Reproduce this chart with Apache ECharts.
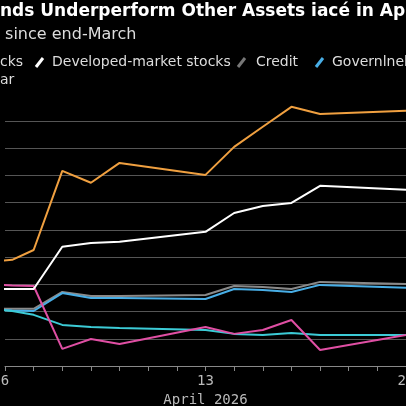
<!DOCTYPE html>
<html><head><meta charset="utf-8">
<script src="https://cdn.jsdelivr.net/npm/echarts@6/dist/echarts.min.js"></script>
<style>html,body{margin:0;padding:0;background:#000}#c{width:406px;height:406px}</style>
</head><body><div id="c"></div>
<script>
const days = [5.83, 6.25, 7, 8, 9, 10, 13, 14, 15, 16, 17, 20];
const emStocks = [3.86, 3.9, 4.26, 7.17, 6.73, 7.46, 7.02, 8.05, 8.79, 9.52, 9.26, 9.38];
const dmStocks = [2.83, 2.83, 2.83, 4.38, 4.52, 4.56, 4.93, 5.62, 5.88, 5.99, 6.62, 6.47];
const credit = [2.1, 2.1, 2.1, 2.72, 2.57, 2.57, 2.61, 2.94, 2.9, 2.83, 3.09, 3.01];
const govt = [2.06, 2.04, 2.02, 2.68, 2.5, 2.5, 2.46, 2.83, 2.79, 2.72, 2.98, 2.87];
const dollar = [2.06, 2.02, 1.88, 1.51, 1.43, 1.4, 1.32, 1.18, 1.14, 1.21, 1.14, 1.14];
const other = [2.98, 2.96, 2.94, 0.63, 0.99, 0.81, 1.43, 1.18, 1.32, 1.69, 0.59, 1.14];
const xTickLabels = {6: '6', 13: '13', 20: '20'};

const mk = (name, data, color) => ({
  name, type: 'line', data: days.map((d, i) => [d, data[i]]), showSymbol: false,
  clip: false, lineStyle: {color, width: 2}, itemStyle: {color}, animation: false
});
const chart = echarts.init(document.getElementById('c'));
const txt = (x, y, t, o) => Object.assign({type: 'text', x, y, style: Object.assign({text: t, fill: '#ddd', font: '14px "DejaVu Sans"'}, o || {})});
const icon = (x, y, c) => ({type: 'line', shape: {x1: x, y1: y + 5, x2: x + 7, y2: y - 4}, style: {stroke: c, lineWidth: 3}});
chart.setOption({
  backgroundColor: '#000',
  grid: {left: 5, right: 0, top: 121, bottom: 40, containLabel: false, outerBoundsMode: 'none'},
  xAxis: {type: 'value', min: 6, max: 20, interval: 1,
    axisLine: {show: true, lineStyle: {color: '#888'}},
    axisTick: {show: true, length: 5, lineStyle: {color: '#888'}},
    splitLine: {show: false},
    axisLabel: {color: '#bbb', fontSize: 14, fontFamily: 'DejaVu Sans Mono', margin: 8, hideOverlap: false, formatter: v => xTickLabels[v] || ''},
    name: 'April 2026', nameLocation: 'middle', nameGap: 27,
    nameTextStyle: {color: '#bbb', fontSize: 14, fontFamily: 'DejaVu Sans Mono'}},
  yAxis: {type: 'value', min: 0, max: 9, interval: 1, axisLabel: {show: false},
    axisLine: {show: false}, axisTick: {show: false},
    splitLine: {lineStyle: {color: '#555', width: 1}}},
  series: [mk('Credit', credit, '#8a8a8a'), mk('Government', govt, '#48aee6'),
    mk('Dollar', dollar, '#3ccbd6'), mk('Other', other, '#e04fa4'),
    mk('DM', dmStocks, '#ffffff'), mk('EM', emStocks, '#f0a040')],
  graphic: [
    {type: 'line', shape: {x1: 0, y1: 0, x2: 5, y2: 0}, style: {stroke: 'transparent'}},
    txt(0, 3, 'nds Underperform Other Assets iacé in Ap', {fill: '#fff', font: 'bold 17px "DejaVu Sans"'}),
    txt(0, 27, ' since end-March', {fill: '#ddd', font: '16px "DejaVu Sans"'}),
    txt(0, 55, 'cks'), icon(36, 62, '#fff'), txt(52, 55, 'Developed-market stocks'),
    icon(238, 62, '#777'), txt(256, 55, 'Credit'),
    icon(316, 62, '#48aee6'), txt(332, 55, 'Governlnek'),
    txt(0, 73, 'ar')
  ]
});
</script></body></html>
